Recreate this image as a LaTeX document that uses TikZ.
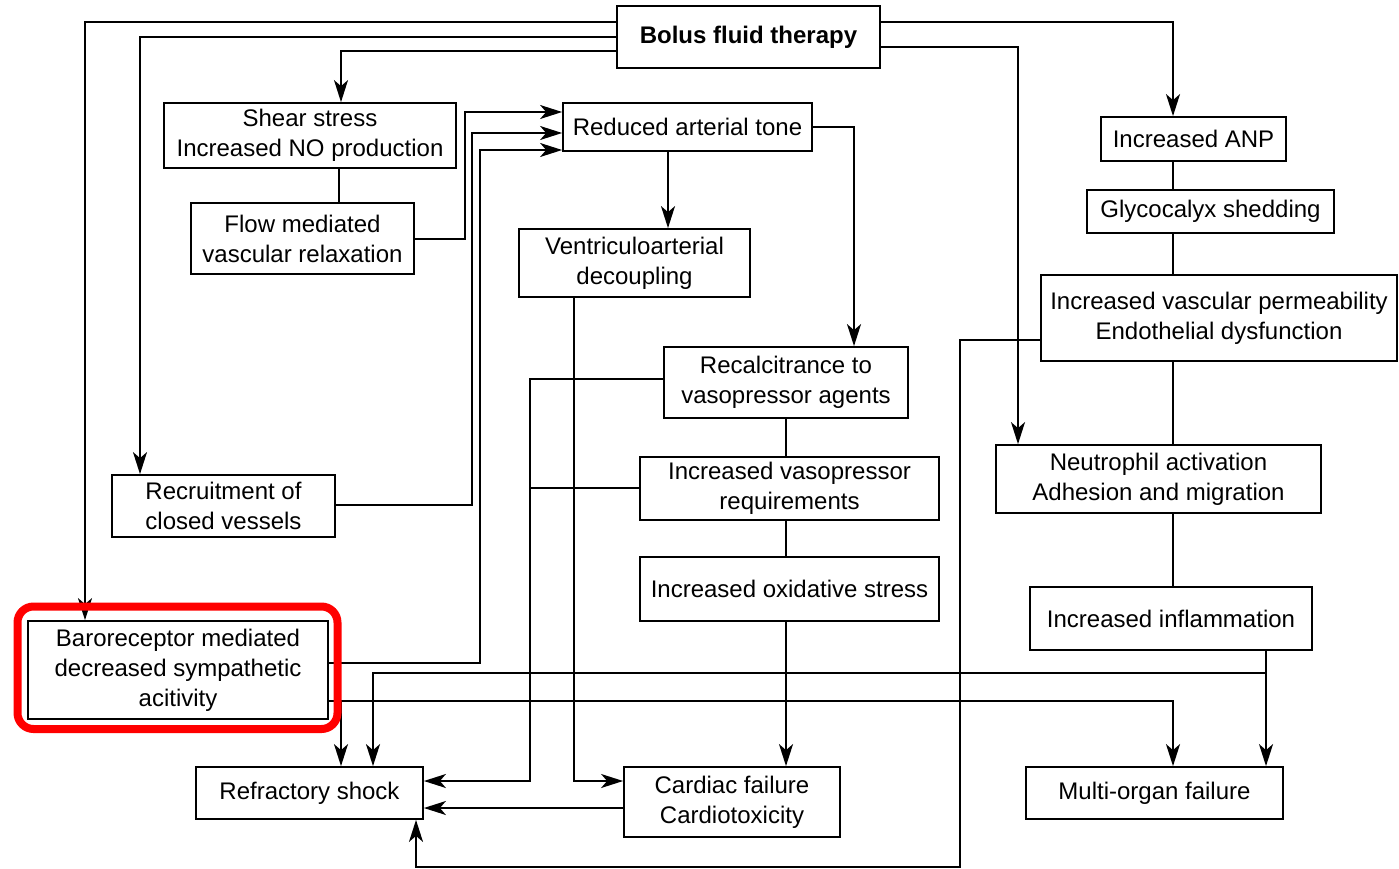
\documentclass[tikz,border=0pt]{standalone}
\usepackage{fontspec}
\setmainfont{Liberation Sans}
\usetikzlibrary{arrows.meta}
\begin{document}
\begin{tikzpicture}[x=1pt,y=-1pt,
  box/.style={draw, line width=1.8pt, inner sep=0pt, align=center,
    font=\fontsize{24}{30}\selectfont},
  link/.style={line width=1.8pt},
  arr/.style={link, -{Stealth[length=22pt,width=14pt,inset=6pt]}},
  highlight/.style={draw=red, line width=8pt, rounded corners=16pt}
]
\useasboundingbox (0,0) rectangle (1399,869);

% boxes
\node[box, minimum width=263pt, minimum height=62pt,
  font=\fontsize{24}{30}\selectfont\bfseries] (bolus) at (748.5,37) {Bolus fluid therapy};
\node[box, minimum width=292pt, minimum height=65pt] (shear) at (310,135.5) {Shear stress\\Increased NO production};
\node[box, minimum width=223pt, minimum height=71pt] (flow) at (302.5,238.5) {Flow mediated\\vascular relaxation};
\node[box, minimum width=249pt, minimum height=48pt] (tone) at (687.5,127) {Reduced arterial tone};
\node[box, minimum width=231pt, minimum height=68pt] (vent) at (634.5,263) {Ventriculoarterial\\decoupling};
\node[box, minimum width=244pt, minimum height=71pt] (recal) at (786,382.5) {Recalcitrance to\\vasopressor agents};
\node[box, minimum width=299pt, minimum height=63pt] (vreq) at (789.5,488.5) {Increased vasopressor\\requirements};
\node[box, minimum width=299pt, minimum height=64pt] (oxid) at (789.5,589) {Increased oxidative stress};
\node[box, minimum width=223pt, minimum height=62pt] (recruit) at (223.5,506) {Recruitment of\\closed vessels};
\node[box, minimum width=300pt, minimum height=98pt] (baro) at (178,670) {Baroreceptor mediated\\decreased sympathetic\\acitivity};
\node[box, minimum width=227pt, minimum height=52pt] (shock) at (309.5,793) {Refractory shock};
\node[box, minimum width=216pt, minimum height=70pt] (cardiac) at (732,802) {Cardiac failure\\Cardiotoxicity};
\node[box, minimum width=185pt, minimum height=44pt] (anp) at (1193.5,139) {Increased ANP};
\node[box, minimum width=247pt, minimum height=43pt] (glyco) at (1210.5,211.5) {Glycocalyx shedding};
\node[box, minimum width=356pt, minimum height=86pt] (perm) at (1219,318) {Increased vascular permeability\\Endothelial dysfunction};
\node[box, minimum width=325pt, minimum height=68pt] (neutro) at (1158.5,479) {Neutrophil activation\\Adhesion and migration};
\node[box, minimum width=282pt, minimum height=63pt] (inflam) at (1171,618.5) {Increased inflammation};
\node[box, minimum width=257pt, minimum height=52pt] (multi) at (1154.5,793) {Multi-organ failure};

% from the bolus
\draw[arr] (bolus.west |- 0,22) -| (baro.north -| 85,0);
\draw[arr] (bolus.west |- 0,37) -| (recruit.north -| 140,0);
\draw[arr] (bolus.west |- 0,51) -| (shear.north -| 341,0);
\draw[arr] (bolus.east |- 0,22) -| (anp.north -| 1173,0);
\draw[arr] (bolus.east |- 0,47) -| (neutro.north -| 1018,0);

% vascular tone branch
\draw[link] (shear.south -| 339,0) -- (flow.north -| 339,0);
\draw[arr] (flow.east |- 0,239) -| (465,112) -- (tone.west |- 0,112);
\draw[arr] (recruit.east |- 0,505) -| (472,133) -- (tone.west |- 0,133);
\draw[arr] (baro.east |- 0,663) -| (480,150) -- (tone.west |- 0,150);
\draw[arr] (tone.south -| 668,0) -- (vent.north -| 668,0);
\draw[arr] (tone.east) -| (recal.north -| 854,0);

% vasopressor chain
\draw[link] (recal.south -| 786,0) -- (vreq.north -| 786,0);
\draw[link] (vreq.south -| 786,0) -- (oxid.north -| 786,0);
\draw[arr] (oxid.south -| 786,0) -- (cardiac.north -| 786,0);
\draw[arr] (recal.west |- 0,379) -| (530,781) -- (shock.east |- 0,781);
\draw[link] (vreq.west |- 0,488) -- (530,488);
\draw[arr] (vent.south -| 574,0) |- (cardiac.west |- 0,781);
\draw[arr] (cardiac.west |- 0,808) -- (shock.east |- 0,808);

% endothelial branch
\draw[link] (anp.south -| 1173,0) -- (glyco.north -| 1173,0);
\draw[link] (glyco.south -| 1173,0) -- (perm.north -| 1173,0);
\draw[link] (perm.south -| 1173,0) -- (neutro.north -| 1173,0);
\draw[link] (neutro.south -| 1173,0) -- (inflam.north -| 1173,0);
\draw[arr] (inflam.south -| 1266,0) -- (multi.north -| 1266,0);
\draw[arr] (1266,673) -| (shock.north -| 373,0);
\draw[arr] (perm.west |- 0,340) -| (960,867) -| (shock.south -| 416,0);

% baroreceptor outputs
\draw[arr] (baro.east |- 0,701) -| (multi.north -| 1173,0);
\draw[arr] (341,701) -- (shock.north -| 341,0);

% highlight frame
\draw[highlight] (17.5,606.5) rectangle (337.5,729);
\end{tikzpicture}
\end{document}
